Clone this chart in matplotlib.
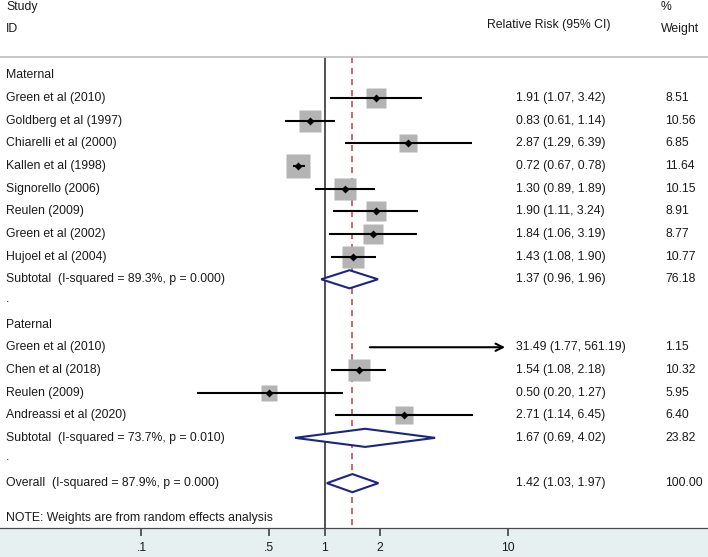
import matplotlib
matplotlib.use("Agg")
import matplotlib.pyplot as plt
from matplotlib.patches import Rectangle, Polygon
from matplotlib.ticker import NullLocator

plt.rcParams["font.family"] = ["Liberation Sans", "DejaVu Sans"]

# data
maternal_studies = ["Green et al (2010)", "Goldberg et al (1997)", "Chiarelli et al (2000)",
                    "Kallen et al (1998)", "Signorello (2006)", "Reulen (2009)",
                    "Green et al (2002)", "Hujoel et al (2004)"]
maternal_rr = [1.91, 0.83, 2.87, 0.72, 1.30, 1.90, 1.84, 1.43]
maternal_lo = [1.07, 0.61, 1.29, 0.67, 0.89, 1.11, 1.06, 1.08]
maternal_hi = [3.42, 1.14, 6.39, 0.78, 1.89, 3.24, 3.19, 1.90]
maternal_weight = [8.51, 10.56, 6.85, 11.64, 10.15, 8.91, 8.77, 10.77]
maternal_subtotal = ["Subtotal  (I-squared = 89.3%, p = 0.000)", 1.37, 0.96, 1.96, 76.18]

paternal_studies = ["Green et al (2010)", "Chen et al (2018)", "Reulen (2009)", "Andreassi et al (2020)"]
paternal_rr = [31.49, 1.54, 0.50, 2.71]
paternal_lo = [1.77, 1.08, 0.20, 1.14]
paternal_hi = [561.19, 2.18, 1.27, 6.45]
paternal_weight = [1.15, 10.32, 5.95, 6.40]
paternal_subtotal = ["Subtotal  (I-squared = 73.7%, p = 0.010)", 1.67, 0.69, 4.02, 23.82]

overall = ["Overall  (I-squared = 87.9%, p = 0.000)", 1.42, 1.03, 1.97, 100.00]

tick_values = [0.1, 0.5, 1, 2, 10]
tick_labels = [".1", ".5", "1", "2", "10"]

TEXT = "#1a1a1a"
SQUARE = "#b4b4b4"
NAVY = "#1c2680"
RED = "#b8404a"
BAND = "#e7f0f1"
CLIP = 9.7
FS = 8.8
W = 708.0

fig = plt.figure(figsize=(7.08, 5.57), dpi=100)
band_h = 29 / 557
fig.patches.append(Rectangle((0, 0), 1, band_h, transform=fig.transFigure,
                             facecolor=BAND, edgecolor="none", zorder=-1))
ax = fig.add_axes([0, band_h, 1, 1 - band_h])
ax.set_facecolor("white")
ax.set_xscale("log")
ax.set_xlim(0.01686, 124.6)
ax.set_ylim(19.98, -3.33)
for side in ["top", "left", "right"]:
    ax.spines[side].set_visible(False)
ax.spines["bottom"].set_color("#4a4a4a")
ax.spines["bottom"].set_linewidth(0.9)
ax.set_xticks(tick_values, tick_labels)
ax.xaxis.set_minor_locator(NullLocator())
ax.set_yticks([])
ax.tick_params(axis="x", direction="out", length=5.8, width=1.1, pad=4,
               labelsize=FS, colors="#333333", labelcolor=TEXT)


def left(y, s):
    ax.text(6 / W, y, s, transform=ax.get_yaxis_transform(), ha="left", va="center",
            fontsize=FS, color=TEXT)


def right_cols(y, rr, lo, hi, w):
    ax.text(516 / W, y, f"{rr:.2f} ({lo:.2f}, {hi:.2f})", transform=ax.get_yaxis_transform(),
            ha="left", va="center", fontsize=FS, color=TEXT)
    ax.text(665 / W, y, f"{w:.2f}", transform=ax.get_yaxis_transform(),
            ha="left", va="center", fontsize=FS, color=TEXT)


def study(y, name, rr, lo, hi, w):
    left(y, name)
    right_cols(y, rr, lo, hi, w)
    if rr < CLIP:
        ax.plot([rr], [y], marker="s", ms=4.86 * w ** 0.5, color=SQUARE, mec="none", zorder=2)
    if hi > CLIP:
        ax.annotate("", xy=(CLIP, y), xytext=(lo, y),
                    arrowprops=dict(arrowstyle="->", lw=1.5, color="black",
                                    shrinkA=0, shrinkB=0, mutation_scale=13), zorder=3)
    else:
        ax.plot([lo, hi], [y, y], color="black", lw=1.5, zorder=3, solid_capstyle="butt")
    if rr < CLIP:
        ax.plot([rr], [y], marker="D", ms=4.2, color="black", mec="none", zorder=4)


def diamond(y, row):
    name, rr, lo, hi, w = row
    left(y, name)
    right_cols(y, rr, lo, hi, w)
    h = 0.4
    ax.add_patch(Polygon([(lo, y), (rr, y - h), (hi, y), (rr, y + h)], closed=True,
                         facecolor="white", edgecolor=NAVY, lw=1.5, zorder=4))


# header
tr = ax.get_yaxis_transform()
ax.text(6 / W, -3.02, "Study", transform=tr, ha="left", va="center", fontsize=FS, color=TEXT)
ax.text(6 / W, -2.05, "ID", transform=tr, ha="left", va="center", fontsize=FS, color=TEXT)
ax.text(487 / W, -2.23, "Relative Risk (95% CI)", transform=tr, ha="left", va="center",
        fontsize=FS, color=TEXT)
ax.text(661 / W, -3.02, "%", transform=tr, ha="left", va="center", fontsize=FS, color=TEXT)
ax.text(661 / W, -2.05, "Weight", transform=tr, ha="left", va="center", fontsize=FS, color=TEXT)
ax.axhline(-0.81, color="#c4c4c4", lw=1.3)

# reference lines
ax.vlines(1, -0.81, 19.98, color="#222222", lw=1.1, zorder=1)
ax.vlines(overall[1], -0.81, 19.98, color=RED, lw=1.1, linestyles=(0, (4, 3.2)), zorder=1)

row = 0
left(row, "Maternal")
row += 1
for i in range(len(maternal_studies)):
    study(row, maternal_studies[i], maternal_rr[i], maternal_lo[i], maternal_hi[i], maternal_weight[i])
    row += 1
diamond(row, maternal_subtotal)
row += 1
left(row - 0.15, ".")
row += 1
left(row, "Paternal")
row += 1
for i in range(len(paternal_studies)):
    study(row, paternal_studies[i], paternal_rr[i], paternal_lo[i], paternal_hi[i], paternal_weight[i])
    row += 1
diamond(row, paternal_subtotal)
row += 1
left(row - 0.15, ".")
row += 1
diamond(row, overall)
left(19.54, "NOTE: Weights are from random effects analysis")

fig.savefig("out.png", dpi=100, facecolor="white")
